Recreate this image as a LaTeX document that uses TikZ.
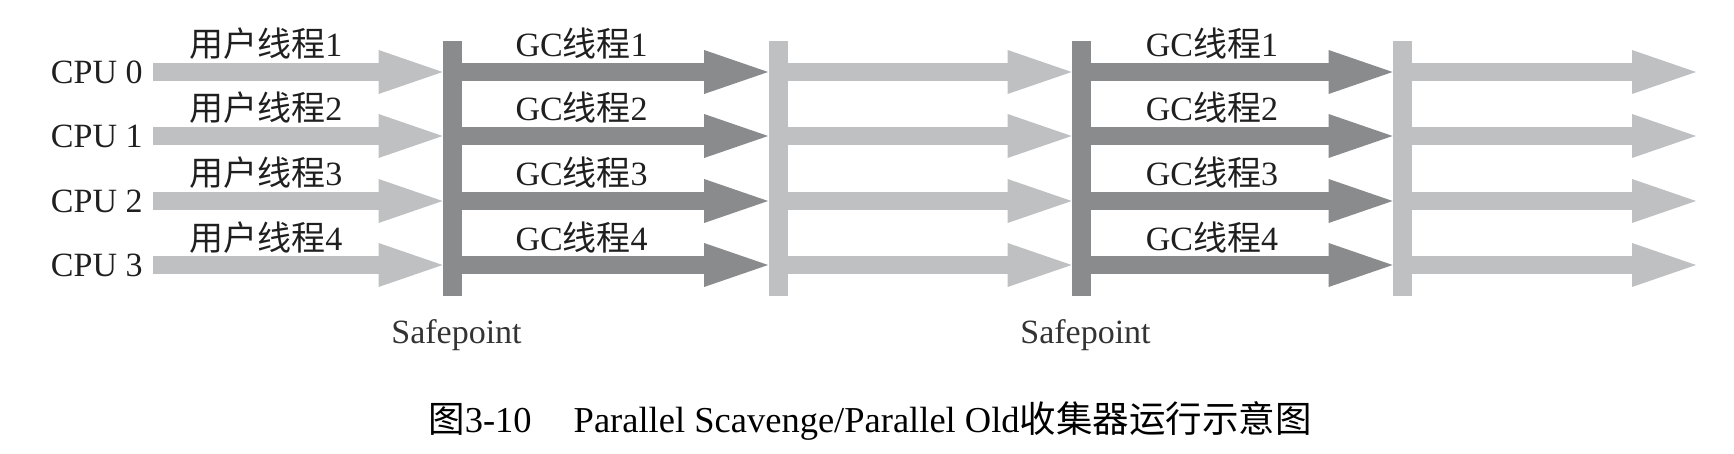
\documentclass[tikz,border=0pt]{standalone}
\usepackage{fontspec}
\setmainfont{Liberation Serif}
\newfontfamily\cjk{Noto Sans CJK SC}
\usetikzlibrary{positioning,arrows.meta}
\definecolor{bar_light}{RGB}{190,192,194}
\definecolor{bar_dark}{RGB}{138,139,141}
\tikzset{
    % Safepoint / phase bars
    bar/.style = {rectangle, inner sep=0pt, minimum width=9.5pt, minimum height=127.5pt},
    bar_gc/.style = {bar, fill=bar_dark},
    bar_run/.style = {bar, fill=bar_light},
    % Thread arrows
    thread/.style = {line width=9pt, -{Triangle[length=32pt, width=22pt, line width=0pt]}},
    thread_user/.style = {thread, draw=bar_light},
    thread_gc/.style = {thread, draw=bar_dark},
    lbl/.style = {font=\fontsize{17}{20}\selectfont, text=black!88, inner sep=0pt}
}

\begin{document}
\begin{tikzpicture}[x=0.5pt, y=-0.5pt]
    \useasboundingbox (0,0) rectangle (1734,454);

    \node[bar_gc]  (sp1)  at (452.5,168.5) {};
    \node[bar_run] (end1) at (778,168.5) {};
    \node[bar_gc]  (sp2)  at (1081.5,168.5) {};
    \node[bar_run] (end2) at (1402.5,168.5) {};

    \node[lbl, text=black!80, below=11.5pt of sp1, xshift=2pt] (sp1_lbl) {Safepoint};
    \node[lbl, text=black!80, below=11.5pt of sp2, xshift=2pt] (sp2_lbl) {Safepoint};

    \foreach \i/\y in {0/72, 1/136, 2/201, 3/265} {
        \pgfmathtruncatemacro{\n}{\i+1}
        \node[lbl, anchor=east, inner xsep=5pt] (cpu\i) at (153,\y) {CPU \i};
        \coordinate (out\i) at (1696,\y);
        \draw[thread_user] (cpu\i.east) -- (cpu\i -| sp1.west)
            node[lbl, pos=0.39, anchor=base, yshift=7.5pt]{{\cjk 用户线程}\n};
        \draw[thread_gc] (cpu\i -| sp1.east) -- (cpu\i -| end1.west)
            node[lbl, pos=0.39, anchor=base, yshift=7.5pt]{GC{\cjk 线程}\n};
        \draw[thread_user] (cpu\i -| end1.east) -- (cpu\i -| sp2.west);
        \draw[thread_gc] (cpu\i -| sp2.east) -- (cpu\i -| end2.west)
            node[lbl, pos=0.4, anchor=base, yshift=7.5pt]{GC{\cjk 线程}\n};
        \draw[thread_user] (cpu\i -| end2.east) -- (out\i);
    }

    \node[font=\fontsize{18.25}{22}\selectfont, anchor=base] (caption) at (870,432)
        {{\cjk 图}3-10\hspace{21pt}Parallel Scavenge/Parallel Old{\cjk 收集器运行示意图}};
\end{tikzpicture}
\end{document}
